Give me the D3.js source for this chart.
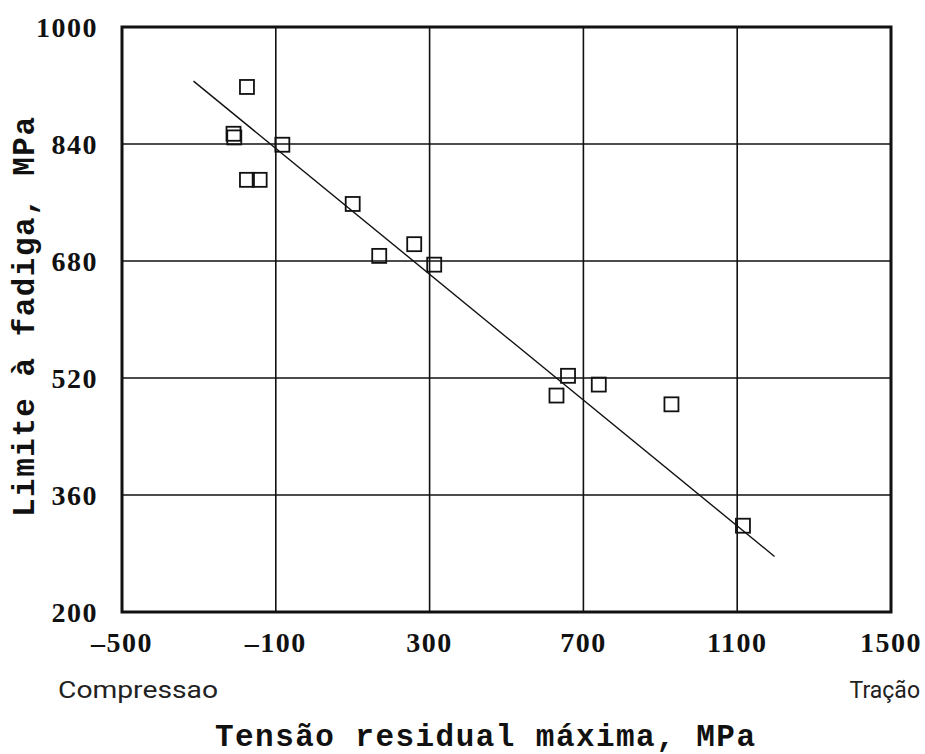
<!DOCTYPE html>
<html>
<head>
<meta charset="utf-8">
<script src="https://cdn.jsdelivr.net/npm/d3@7"></script>
<style>
  body { margin: 0; background: #fff; }
  svg { display: block; }
</style>
</head>
<body>
<svg id="chart" width="925" height="754"></svg>
<script>
// Data
const tensao = [-175, -210, -208, -83, -175, -142, 100, 169, 260, 312, 660, 630, 740, 929, 1115];
const limite = [918, 854, 849, 839, 791, 791, 758, 687, 703, 675, 523, 496, 511, 484, 318];
const fitX = [-314, 1197];
const fitY = [926, 276];
const xTicks = [-500, -100, 300, 700, 1100, 1500];
const yTicks = [200, 360, 520, 680, 840, 1000];

const svg = d3.select('#chart');
const plotLeft = 122, plotRight = 891, plotTop = 27, plotBottom = 612;

const x = d3.scaleLinear().domain([-500, 1500]).range([plotLeft, plotRight]);
const y = d3.scaleLinear().domain([200, 1000]).range([plotBottom, plotTop]);

// grid
svg.append('g').selectAll('line')
    .data(xTicks.slice(1, -1))
    .enter().append('line')
    .attr('x1', d => x(d)).attr('x2', d => x(d))
    .attr('y1', plotTop).attr('y2', plotBottom)
    .attr('stroke', '#111').attr('stroke-width', 1.6);

svg.append('g').selectAll('line')
    .data(yTicks.slice(1, -1))
    .enter().append('line')
    .attr('x1', plotLeft).attr('x2', plotRight)
    .attr('y1', d => y(d)).attr('y2', d => y(d))
    .attr('stroke', '#111').attr('stroke-width', 1.6);

// frame
svg.append('rect')
    .attr('x', plotLeft).attr('y', plotTop)
    .attr('width', plotRight - plotLeft).attr('height', plotBottom - plotTop)
    .attr('fill', 'none').attr('stroke', '#111').attr('stroke-width', 3);

// fitted line
svg.append('line')
    .attr('x1', x(fitX[0])).attr('y1', y(fitY[0]))
    .attr('x2', x(fitX[1])).attr('y2', y(fitY[1]))
    .attr('stroke', '#111').attr('stroke-width', 1.4);

// points
const sq = 14;
svg.append('g').selectAll('rect')
    .data(tensao.map((t, i) => [t, limite[i]]))
    .enter().append('rect')
    .attr('x', d => x(d[0]) - sq / 2)
    .attr('y', d => y(d[1]) - sq / 2)
    .attr('width', sq).attr('height', sq)
    .attr('fill', 'none').attr('stroke', '#111').attr('stroke-width', 1.8);

// tick labels
const tickFont = '"Liberation Serif", "DejaVu Serif", serif';
svg.append('g').selectAll('text')
    .data(yTicks)
    .enter().append('text')
    .attr('x', 98).attr('y', d => y(d) + 10)
    .attr('text-anchor', 'end')
    .style('font-family', tickFont).style('font-weight', 'bold')
    .style('font-size', '28px').style('letter-spacing', '1.5px')
    .attr('fill', '#111')
    .text(d => d);

svg.append('g').selectAll('text')
    .data(xTicks)
    .enter().append('text')
    .attr('x', d => x(d)).attr('y', 652)
    .attr('text-anchor', 'middle')
    .style('font-family', tickFont).style('font-weight', 'bold')
    .style('font-size', '28px').style('letter-spacing', '1.5px')
    .attr('fill', '#111')
    .text(d => d < 0 ? '\u2013' + Math.abs(d) : d);

// side notes
svg.append('text')
    .attr('x', 58).attr('y', 698)
    .attr('textLength', 160).attr('lengthAdjust', 'spacingAndGlyphs')
    .style('font-family', 'Roboto, sans-serif').style('font-size', '23px')
    .attr('fill', '#222')
    .text('Compressao');

svg.append('text')
    .attr('x', 920).attr('y', 698)
    .attr('text-anchor', 'end')
    .style('font-family', 'Roboto, sans-serif').style('font-size', '23px')
    .attr('fill', '#222')
    .text('Tração');

// axis titles
const titleFont = '"Liberation Mono", "DejaVu Sans Mono", monospace';
svg.append('text')
    .attr('x', 215).attr('y', 746)
    .attr('textLength', 540).attr('lengthAdjust', 'spacing')
    .style('font-family', titleFont).style('font-weight', 'bold')
    .style('font-size', '31px')
    .attr('fill', '#111')
    .text('Tensão residual máxima, MPa');

svg.append('text')
    .attr('transform', 'translate(34,517) rotate(-90)')
    .attr('textLength', 400).attr('lengthAdjust', 'spacing')
    .style('font-family', titleFont).style('font-weight', 'bold')
    .style('font-size', '31px')
    .attr('fill', '#111')
    .text('Limite à fadiga, MPa');
</script>
</body>
</html>
